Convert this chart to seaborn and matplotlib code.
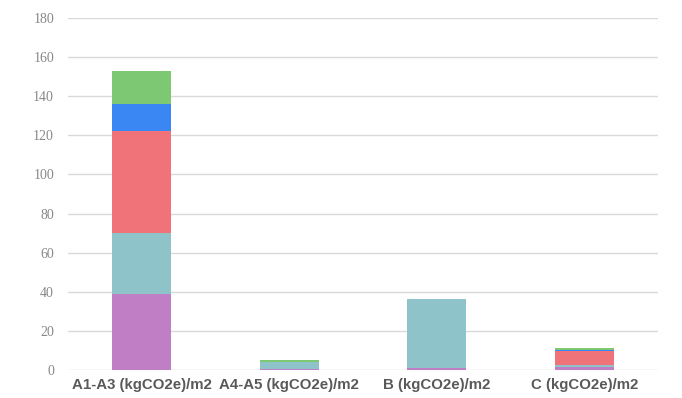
import matplotlib
matplotlib.use("Agg")
import matplotlib.pyplot as plt
import seaborn as sns
import numpy as np
import pandas as pd

categories = ["A1-A3 (kgCO2e)/m2", "A4-A5 (kgCO2e)/m2", "B (kgCO2e)/m2", "C (kgCO2e)/m2"]
s_purple = [39.0, 0.5, 1.0, 1.5]
s_teal = [31.0, 3.6, 35.3, 0.8]
s_red = [52.0, 0.0, 0.0, 7.5]
s_blue = [14.0, 0.0, 0.0, 0.5]
s_green = [17.0, 0.8, 0.0, 0.8]
yticks = [0, 20, 40, 60, 80, 100, 120, 140, 160, 180]

series = [s_purple, s_teal, s_red, s_blue, s_green]
colors = ["#C07FC4", "#8EC3C9", "#F0737A", "#3A86F2", "#7DC873"]

sns.set_style("white")
fig = plt.figure(figsize=(6.82, 3.98), dpi=100)
ax = fig.add_axes([0.0997, 0.0704, 0.8653, 0.8846])

cum = np.cumsum(np.array(series), axis=0)
for i in range(len(series) - 1, -1, -1):
    df = pd.DataFrame({"cat": categories, "val": cum[i]})
    sns.barplot(data=df, x="cat", y="val", color=colors[i], width=0.4,
                saturation=1, ax=ax, zorder=3, linewidth=0, errorbar=None)

ax.set_ylim(0, 180)
ax.set_xlim(-0.5, 3.5)
ax.set_yticks(yticks)
ax.yaxis.grid(True, color="#D9D9D9", linewidth=1, zorder=0)
ax.set_axisbelow(True)
for s in ax.spines.values():
    s.set_visible(False)
ax.set_xlabel("")
ax.set_ylabel("")
ax.tick_params(axis="y", length=0, pad=10, labelsize=10, labelcolor="#888888")
ax.tick_params(axis="x", length=0, pad=6)
for lab in ax.get_yticklabels():
    lab.set_fontfamily("Liberation Serif")
for lab in ax.get_xticklabels():
    lab.set_fontfamily("Liberation Sans")
    lab.set_fontweight("bold")
    lab.set_fontsize(10.8)
    lab.set_color("#595959")

fig.savefig("out.png", dpi=100)
